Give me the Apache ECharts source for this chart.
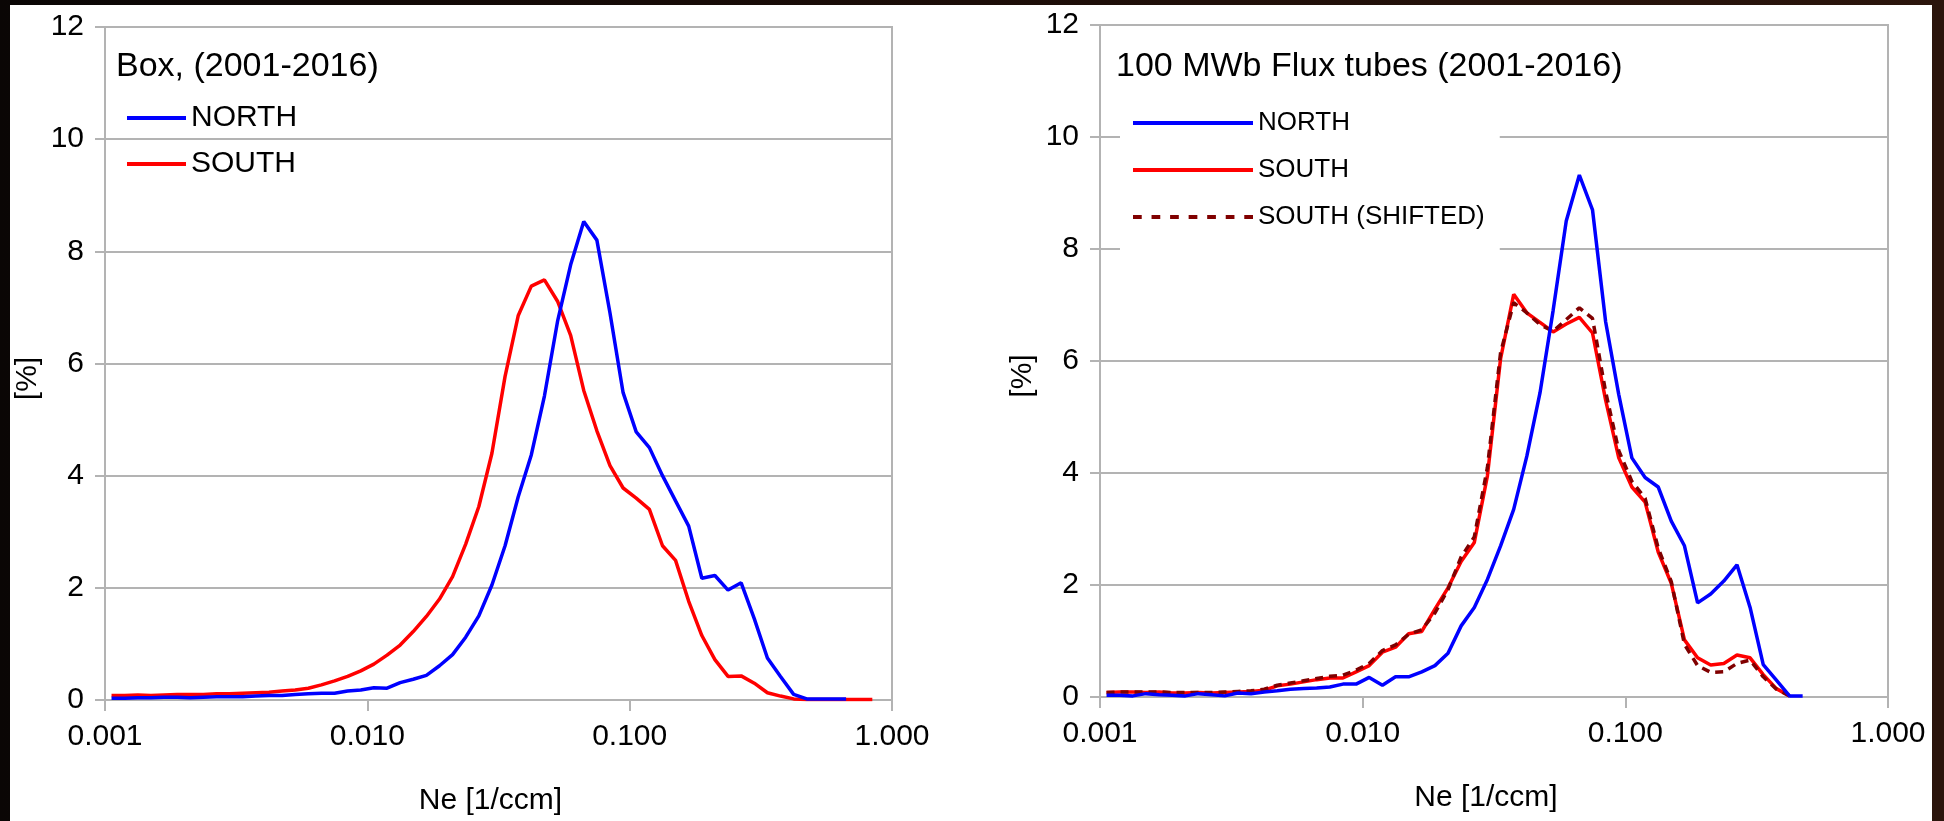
<!DOCTYPE html>
<html>
<head>
<meta charset="utf-8">
<title>Ne distributions</title>
<script src="https://cdn.jsdelivr.net/npm/echarts@6/dist/echarts.min.js"></script>
<style>
  html, body { margin: 0; padding: 0; width: 1944px; height: 821px; overflow: hidden;
    background: linear-gradient(90deg, #0a0605 0%, #1c0d08 50%, #2b150c 100%); }
  #sheet { position: absolute; left: 10px; top: 5px; width: 1922px; height: 816px; background: #ffffff; }
  #chart { position: absolute; left: 0; top: 0; width: 1944px; height: 821px; }
</style>
</head>
<body>
<div id="sheet"></div>
<div id="chart"></div>
<script>
// Logarithmic Ne bins (geometric bin centres, 20 bins per decade)
const neBins = [
  0.001059, 0.001189, 0.001334, 0.001496, 0.001679, 0.001884, 0.002113, 0.002371, 0.002661, 0.002985,
  0.003350, 0.003758, 0.004217, 0.004732, 0.005309, 0.005957, 0.006683, 0.007499, 0.008414, 0.009441,
  0.01059, 0.01189, 0.01334, 0.01496, 0.01679, 0.01884, 0.02113, 0.02371, 0.02661, 0.02985,
  0.03350, 0.03758, 0.04217, 0.04732, 0.05309, 0.05957, 0.06683, 0.07499, 0.08414, 0.09441,
  0.1059, 0.1189, 0.1334, 0.1496, 0.1679, 0.1884, 0.2113, 0.2371, 0.2661, 0.2985,
  0.3350, 0.3758, 0.4217, 0.4732, 0.5309, 0.5957, 0.6683, 0.7499, 0.8414, 0.9441
];

// Box, (2001-2016) — occurrence in percent per bin
const boxNorth = [
  0.03, 0.03, 0.04, 0.04, 0.05, 0.05, 0.04, 0.05, 0.06, 0.06,
  0.06, 0.07, 0.08, 0.08, 0.10, 0.11, 0.12, 0.12, 0.16, 0.18,
  0.22, 0.21, 0.31, 0.37, 0.44, 0.61, 0.81, 1.12, 1.50, 2.05,
  2.75, 3.62, 4.37, 5.42, 6.75, 7.76, 8.53, 8.20, 6.90, 5.48,
  4.78, 4.50, 4.00, 3.55, 3.10, 2.17, 2.22, 1.96, 2.09, 1.45,
  0.75, 0.42, 0.10, 0.02, 0.02, 0.02, 0.02
];
const boxSouth = [
  0.08, 0.08, 0.09, 0.08, 0.09, 0.10, 0.10, 0.10, 0.11, 0.11,
  0.12, 0.13, 0.14, 0.16, 0.18, 0.21, 0.27, 0.34, 0.42, 0.52,
  0.64, 0.80, 0.98, 1.22, 1.49, 1.80, 2.20, 2.78, 3.45, 4.40,
  5.77, 6.85, 7.38, 7.49, 7.11, 6.50, 5.52, 4.80, 4.18, 3.78,
  3.60, 3.40, 2.75, 2.49, 1.76, 1.15, 0.72, 0.42, 0.43, 0.30,
  0.13, 0.07, 0.02, 0.01, 0.01, 0.01, 0.01, 0.01, 0.01
];

// 100 MWb Flux tubes (2001-2016)
const tubeNorth = [
  0.03, 0.03, 0.02, 0.06, 0.04, 0.03, 0.02, 0.06, 0.04, 0.02,
  0.07, 0.06, 0.09, 0.11, 0.14, 0.15, 0.16, 0.18, 0.23, 0.23,
  0.35, 0.21, 0.36, 0.36, 0.45, 0.56, 0.78, 1.27, 1.60, 2.10,
  2.70, 3.35, 4.30, 5.43, 6.90, 8.50, 9.32, 8.70, 6.70, 5.40,
  4.27, 3.92, 3.75, 3.14, 2.70, 1.68, 1.84, 2.07, 2.36, 1.60,
  0.58, 0.30, 0.02, 0.02
];
const tubeSouth = [
  0.08, 0.09, 0.09, 0.08, 0.09, 0.07, 0.07, 0.08, 0.07, 0.08,
  0.09, 0.10, 0.12, 0.20, 0.23, 0.27, 0.31, 0.34, 0.34, 0.45,
  0.56, 0.80, 0.89, 1.13, 1.17, 1.57, 1.95, 2.42, 2.76, 3.95,
  6.04, 7.19, 6.86, 6.69, 6.52, 6.66, 6.78, 6.50, 5.30, 4.27,
  3.75, 3.48, 2.59, 2.03, 1.02, 0.70, 0.57, 0.60, 0.75, 0.70,
  0.40, 0.15, 0.02
];
const tubeSouthShifted = [
  0.08, 0.09, 0.09, 0.09, 0.09, 0.08, 0.08, 0.08, 0.08, 0.09,
  0.10, 0.11, 0.14, 0.21, 0.25, 0.29, 0.33, 0.37, 0.39, 0.48,
  0.60, 0.83, 0.93, 1.12, 1.20, 1.50, 1.92, 2.50, 2.86, 4.10,
  6.15, 7.04, 6.86, 6.65, 6.53, 6.74, 6.95, 6.76, 5.45, 4.40,
  3.85, 3.55, 2.66, 2.06, 0.94, 0.56, 0.44, 0.45, 0.60, 0.66,
  0.36, 0.14, 0.02
];

const panelTitles = ['Box, (2001-2016)', '100 MWb Flux tubes (2001-2016)'];
const seriesNames = ['NORTH', 'SOUTH', 'SOUTH (SHIFTED)'];
const xAxisTitle = 'Ne [1/ccm]';
const yAxisTitle = '[%]';

const FONT = 'Liberation Sans, Arial, sans-serif';
const GRID_GRAY = '#b3b3b3';
const LINE_W = 3.5;
// legend keys: a solid bar and a row of short dashes
const SOLID_KEY = 'rect';
const DASH_KEY = 'path://M0,0h8v3h-8zM17,0h8v3h-8zM34,0h8v3h-8zM51,0h8v3h-8zM68,0h8v3h-8zM85,0h8v3h-8zM102,0h8v3h-8z';

const pairs = (vals) => vals.map((v, i) => [neBins[i], v]);

function xAxisFor(idx) {
  return {
    type: 'log', logBase: 10, min: 0.001, max: 1, gridIndex: idx,
    name: xAxisTitle, nameLocation: 'middle', nameGap: 86,
    nameTextStyle: { fontSize: 30, color: '#000', fontFamily: FONT, padding: [0, 16, 0, 0] },
    axisLine: { show: true, lineStyle: { color: GRID_GRAY, width: 2 } },
    axisTick: { show: true, inside: false, length: 11, lineStyle: { color: GRID_GRAY, width: 2 } },
    minorTick: { show: false },
    splitLine: { show: false },
    axisLabel: { fontSize: 30, color: '#000', fontFamily: FONT, margin: 22,
      formatter: (v) => Number(v).toFixed(3) }
  };
}
function yAxisFor(idx) {
  return {
    type: 'value', min: 0, max: 12, interval: 2, gridIndex: idx,
    name: yAxisTitle, nameLocation: 'middle', nameGap: 62,
    nameTextStyle: { fontSize: 30, color: '#000', fontFamily: FONT, padding: [0, 30, 0, 0] },
    axisLine: { show: true, lineStyle: { color: GRID_GRAY, width: 2 } },
    axisTick: { show: true, inside: false, length: 10, lineStyle: { color: GRID_GRAY, width: 2 } },
    splitLine: { show: true, lineStyle: { color: GRID_GRAY, width: 2 } },
    axisLabel: { fontSize: 30, color: '#000', fontFamily: FONT, margin: 21 }
  };
}
function lineSeries(name, vals, idx, color, type, z) {
  return {
    name: name, type: 'line', xAxisIndex: idx, yAxisIndex: idx,
    data: pairs(vals), symbol: 'none', showSymbol: false, smooth: false, z: z,
    lineStyle: { color: color, width: LINE_W, type: type },
    itemStyle: { color: color }
  };
}

const chart = echarts.init(document.getElementById('chart'), null, { renderer: 'canvas' });
chart.setOption({
  animation: false,
  backgroundColor: 'transparent',
  textStyle: { fontFamily: FONT },
  title: [
    { text: panelTitles[0], left: 116, top: 50, padding: 0,
      textStyle: { fontSize: 34, fontWeight: 'normal', color: '#000', fontFamily: FONT } },
    { text: panelTitles[1], left: 1116, top: 50, padding: 0,
      textStyle: { fontSize: 34, fontWeight: 'normal', color: '#000', fontFamily: FONT } }
  ],
  grid: [
    { left: 105, top: 27, width: 787, height: 673, show: true, borderColor: GRID_GRAY, borderWidth: 2, backgroundColor: 'transparent' },
    { left: 1100, top: 25, width: 788, height: 672, show: true, borderColor: GRID_GRAY, borderWidth: 2, backgroundColor: 'transparent' }
  ],
  xAxis: [xAxisFor(0), xAxisFor(1)],
  yAxis: [yAxisFor(0), yAxisFor(1)],
  legend: [
    { orient: 'vertical', left: 127, top: 103, padding: 0, itemGap: 16,
      itemWidth: 59, itemHeight: 4, selectedMode: false, symbolKeepAspect: false,
      data: [
        { name: seriesNames[0], icon: SOLID_KEY },
        { name: seriesNames[1], icon: SOLID_KEY }
      ],
      textStyle: { fontSize: 30, color: '#000', fontFamily: FONT } },
    { orient: 'vertical', left: 1120, top: 90, padding: [20, 15, 22, 13], itemGap: 21,
      itemWidth: 120, itemHeight: 4, selectedMode: false, symbolKeepAspect: false,
      backgroundColor: '#ffffff',
      data: [
        { name: seriesNames[0], icon: SOLID_KEY },
        { name: seriesNames[1], icon: SOLID_KEY },
        { name: seriesNames[2], icon: DASH_KEY }
      ],
      textStyle: { fontSize: 26, color: '#000', fontFamily: FONT } }
  ],
  series: [
    lineSeries(seriesNames[1], boxSouth, 0, '#ff0000', 'solid', 2),
    lineSeries(seriesNames[0], boxNorth, 0, '#0000ff', 'solid', 3),
    lineSeries(seriesNames[1], tubeSouth, 1, '#ff0000', 'solid', 2),
    lineSeries(seriesNames[2], tubeSouthShifted, 1, '#800000', [8, 6], 3),
    lineSeries(seriesNames[0], tubeNorth, 1, '#0000ff', 'solid', 4)
  ]
});
</script>
</body>
</html>
